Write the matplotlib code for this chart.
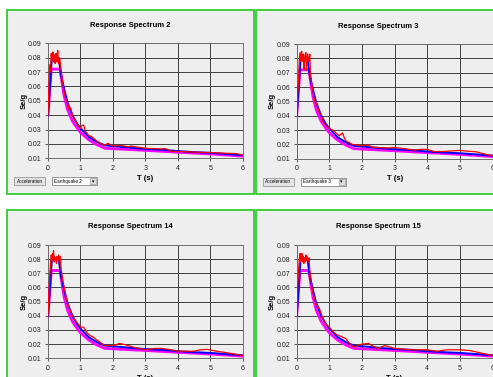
import matplotlib.pyplot as plt
from matplotlib.patches import Rectangle

plt.rcParams['font.family'] = ['Liberation Sans', 'DejaVu Sans']

W, H = 493, 377

# periods / spectral values
t_design = [0, 0.1, 0.37, 0.45, 0.5, 0.6, 0.75, 0.9, 1.0, 1.25, 1.5, 1.75, 2.0, 3.0, 4.0, 5.0, 6.0]
sa_design = [0.040, 0.072, 0.072, 0.060, 0.053, 0.044, 0.036, 0.031, 0.028, 0.023, 0.0195, 0.017,
             0.0167, 0.0155, 0.0142, 0.0130, 0.0115]

t_mean = [0, 0.12, 0.33, 0.4, 0.5, 0.6, 0.75, 0.9, 1.0, 1.25, 1.5, 1.75, 2.0, 2.5, 3.0, 3.5, 4.0,
          4.5, 5.0, 5.5, 6.0]
sa_mean = [0.040, 0.080, 0.080, 0.068, 0.058, 0.049, 0.040, 0.034, 0.031, 0.025, 0.0215, 0.019,
           0.0185, 0.0175, 0.0165, 0.016, 0.015, 0.0143, 0.0138, 0.013, 0.0122]

t_eq2 = [0, 0.03, 0.05, 0.07, 0.08, 0.1, 0.12, 0.13, 0.15, 0.17, 0.18, 0.2, 0.22, 0.23, 0.25, 0.27,
         0.28, 0.3, 0.32, 0.33, 0.36, 0.4, 0.45, 0.5, 0.55, 0.6, 0.65, 0.7, 0.75, 0.8, 0.9, 1.0,
         1.05, 1.1, 1.15, 1.25, 1.35, 1.5, 1.6, 1.75, 1.85, 1.95, 2.1, 2.2, 2.5, 2.55, 3.0, 3.5,
         3.6, 3.7, 3.8, 4.0, 4.5, 5.0, 5.5, 5.8, 6.0]
sa_eq2 = [0.040, 0.062, 0.075, 0.070, 0.072, 0.083, 0.078, 0.080, 0.084, 0.077, 0.079, 0.082,
          0.076, 0.078, 0.083, 0.077, 0.079, 0.085, 0.076, 0.078, 0.080, 0.072, 0.063, 0.056,
          0.051, 0.049, 0.044, 0.045, 0.040, 0.038, 0.034, 0.031, 0.033, 0.033, 0.029, 0.026,
          0.025, 0.022, 0.0205, 0.019, 0.0205, 0.019, 0.0185, 0.019, 0.018, 0.0185, 0.017,
          0.0165, 0.0168, 0.016, 0.0148, 0.0148, 0.0143, 0.014, 0.0135, 0.0133, 0.0122]

t_eq3 = [0, 0.03, 0.05, 0.08, 0.1, 0.12, 0.13, 0.15, 0.17, 0.18, 0.2, 0.22, 0.24, 0.25, 0.28,
         0.3, 0.31, 0.33, 0.36, 0.38, 0.4, 0.42, 0.45, 0.5, 0.55, 0.6, 0.65, 0.7, 0.75, 0.8, 0.9,
         1.0, 1.1, 1.2, 1.3, 1.4, 1.45, 1.5, 1.7, 1.9, 2.0, 2.2, 2.3, 2.5, 2.8, 3.0, 3.3, 3.6,
         3.8, 4.0, 4.2, 4.5, 4.8, 5.0, 5.2, 5.5, 5.8, 6.0]
sa_eq3 = [0.040, 0.055, 0.062, 0.078, 0.084, 0.078, 0.079, 0.085, 0.078, 0.080, 0.083, 0.072,
          0.077, 0.082, 0.084, 0.072, 0.075, 0.083, 0.080, 0.078, 0.083, 0.070, 0.063, 0.057,
          0.050, 0.049, 0.045, 0.042, 0.041, 0.036, 0.033, 0.031, 0.030, 0.028, 0.026, 0.028,
          0.025, 0.0225, 0.020, 0.0195, 0.019, 0.0195, 0.018, 0.0178, 0.0175, 0.0178, 0.017,
          0.016, 0.0165, 0.0165, 0.015, 0.015, 0.0155, 0.0158, 0.0153, 0.0148, 0.013, 0.012]

t_eq14 = [0, 0.03, 0.05, 0.08, 0.1, 0.12, 0.14, 0.15, 0.17, 0.19, 0.2, 0.22, 0.24, 0.26, 0.28,
          0.3, 0.33, 0.35, 0.38, 0.4, 0.45, 0.5, 0.55, 0.6, 0.7, 0.8, 0.9, 1.0, 1.1, 1.2, 1.3,
          1.4, 1.5, 1.75, 2.0, 2.1, 2.2, 2.4, 2.6, 3.0, 3.3, 3.5, 3.8, 4.0, 4.5, 4.7, 4.9, 5.2,
          5.5, 6.0]
sa_eq14 = [0.040, 0.058, 0.066, 0.078, 0.083, 0.079, 0.084, 0.080, 0.086, 0.078, 0.082, 0.079,
           0.081, 0.077, 0.082, 0.079, 0.083, 0.078, 0.082, 0.074, 0.066, 0.060, 0.054, 0.049,
           0.043, 0.038, 0.035, 0.032, 0.032, 0.028, 0.026, 0.025, 0.023, 0.019, 0.019, 0.0195,
           0.0205, 0.0195, 0.018, 0.016, 0.017, 0.017, 0.016, 0.015, 0.015, 0.016, 0.0163,
           0.015, 0.014, 0.012]

t_eq15 = [0, 0.03, 0.05, 0.08, 0.1, 0.11, 0.13, 0.15, 0.16, 0.18, 0.2, 0.22, 0.24, 0.26, 0.28,
          0.3, 0.32, 0.35, 0.38, 0.4, 0.45, 0.5, 0.55, 0.6, 0.7, 0.8, 0.9, 1.0, 1.1, 1.2, 1.3,
          1.4, 1.5, 1.6, 1.75, 2.0, 2.2, 2.3, 2.5, 2.7, 3.0, 3.5, 4.0, 4.3, 4.6, 5.0, 5.3, 5.6,
          6.0]
sa_eq15 = [0.040, 0.060, 0.070, 0.080, 0.084, 0.078, 0.083, 0.079, 0.084, 0.078, 0.082, 0.077,
           0.081, 0.078, 0.083, 0.079, 0.082, 0.078, 0.081, 0.072, 0.063, 0.056, 0.052, 0.048,
           0.045, 0.038, 0.034, 0.032, 0.029, 0.027, 0.026, 0.025, 0.024, 0.021, 0.018, 0.020,
           0.0205, 0.019, 0.017, 0.019, 0.017, 0.016, 0.016, 0.015, 0.016, 0.016, 0.0155,
           0.014, 0.012]

panels = [
    ("Response Spectrum 2", "Earthquake 2", t_eq2, sa_eq2),
    ("Response Spectrum 3", "Earthquake 3", t_eq3, sa_eq3),
    ("Response Spectrum 14", "Earthquake 14", t_eq14, sa_eq14),
    ("Response Spectrum 15", "Earthquake 15", t_eq15, sa_eq15),
]

# pixel geometry of each panel: frame box, plot area (left, top, right, bottom)
frames = [(7, 9.5, 254, 194), (256, 10, 500, 194.5), (7, 210, 254, 390), (256, 210, 500, 390)]
areas = [(48, 43.3, 242.7, 158.3), (296.7, 44, 492.7, 158.7),
         (48, 245, 242.7, 358.3), (296.7, 245, 492.5, 358.3)]

bg = '#eeeeee'
fig = plt.figure(figsize=(W / 100, H / 100), dpi=100, facecolor='white')


def fx(x):
    return x / W


def fy(y):
    return 1 - y / H


for (title, eq, t_eq, sa_eq), (x0, y0, x1, y1), (l, t, r, b) in zip(panels, frames, areas):
    fig.patches.append(Rectangle((fx(x0), fy(y1)), fx(x1 - x0), (y1 - y0) / H,
                                 transform=fig.transFigure, facecolor=bg,
                                 edgecolor='#33cc33', linewidth=1.3, zorder=-2))
    ax = fig.add_axes([fx(l), fy(b), fx(r - l), (b - t) / H])
    ax.set_zorder(3)
    ax.set_facecolor(bg)
    ax.plot(t_design, sa_design, color='#ff00ff', lw=2.0, zorder=3)
    ax.plot(t_mean, sa_mean, color='#0000ff', lw=1.4, zorder=4)
    ax.plot(t_eq, sa_eq, color='#ff0000', lw=0.9, zorder=5)
    ax.set_xlim(0, 6)
    ax.set_ylim(0.01, 0.09)
    ax.set_xticks(range(7))
    ax.set_yticks([0.01, 0.02, 0.03, 0.04, 0.05, 0.06, 0.07, 0.08, 0.09])
    ax.set_yticklabels(['0.01', '0.02', '0.03', '0.04', '0.05', '0.06', '0.07', '0.08', '0.09'])
    ax.grid(True, color='#404040', lw=0.7)
    ax.set_axisbelow(True)
    ax.tick_params(labelsize=5, length=2, width=0.6, color='#404040', pad=2.5, labelcolor='#222222')
    for s in ax.spines.values():
        s.set_color('#707070')
        s.set_linewidth(0.7)

    cx = (x0 + min(x1, 504)) / 2
    fig.text(fx(cx), fy(t - 18), title, ha='center', va='center', fontsize=5.5, fontweight='bold')
    fig.text(fx(l - 24), fy((t + b) / 2), 'Se/g', ha='center', va='center', rotation=90,
             fontsize=5.5, fontweight='bold')
    fig.text(fx((l + r) / 2), fy(b + 20), 'T (s)', ha='center', va='center', fontsize=5.5,
             fontweight='bold')

    # sheet controls under the chart
    by = b + 23
    fig.patches.append(Rectangle((fx(l - 34), fy(by + 4)), fx(31), 8 / H, transform=fig.transFigure,
                                 facecolor='#e4e4e4', edgecolor='#999999', linewidth=0.6, zorder=1))
    fig.text(fx(l - 18.5), fy(by), 'Acceleration', ha='center', va='center', fontsize=3.3)
    fig.patches.append(Rectangle((fx(l + 4), fy(by + 4)), fx(45), 8 / H, transform=fig.transFigure,
                                 facecolor='white', edgecolor='#888888', linewidth=0.6, zorder=1))
    fig.patches.append(Rectangle((fx(l + 42), fy(by + 3)), fx(6), 6 / H, transform=fig.transFigure,
                                 facecolor='#dddddd', edgecolor='#888888', linewidth=0.4, zorder=2))
    fig.text(fx(l + 45), fy(by), '\u25be', ha='center', va='center', fontsize=3.5,
             family=['DejaVu Sans'])
    fig.text(fx(l + 6), fy(by), eq, ha='left', va='center', fontsize=3.3)

fig.savefig('out.png', dpi=100, facecolor='white')
